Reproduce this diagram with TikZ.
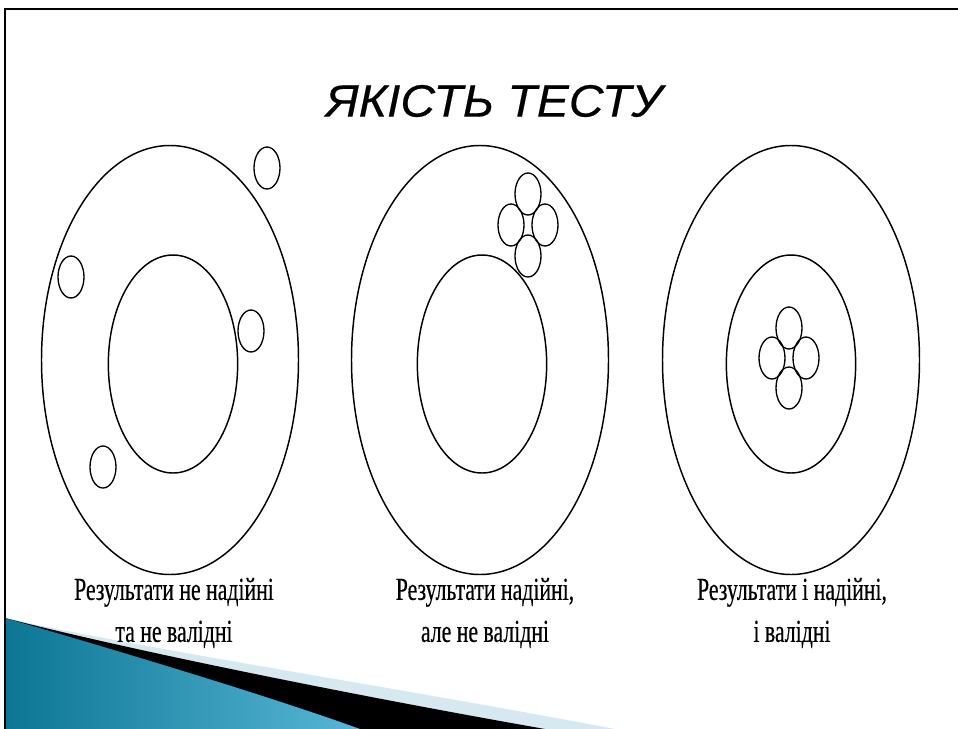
\documentclass[tikz,border=0pt]{standalone}
\usepackage{fontspec}
\setmainfont{Liberation Serif}
\newfontfamily\titlefont{Liberation Sans}[FakeStretch=1.06,FakeBold=0.4]
\newfontfamily\labelfont{Liberation Serif}[FakeStretch=0.68,FakeBold=0.4]
\usetikzlibrary{shapes.geometric}
\definecolor{swooshlight}{RGB}{214,233,240}
\definecolor{swooshdark}{RGB}{12,118,148}
\definecolor{swooshmid}{RGB}{88,182,214}

\begin{document}
\begin{tikzpicture}[x=0.75pt,y=-0.75pt]
			\tikzstyle{ring}=[ellipse,draw,line width=1.1pt,inner sep=0pt,minimum width=192.75pt,minimum height=321.75pt]
			\tikzstyle{bull}=[ellipse,draw,line width=1.1pt,inner sep=0pt,minimum width=97pt,minimum height=163.5pt]
			\tikzstyle{hit}=[ellipse,draw,line width=1pt,inner sep=0pt,minimum width=19.5pt,minimum height=31.5pt]
			\tikzstyle{caption}=[font=\labelfont\fontsize{24}{31.5}\selectfont,align=center]
			\tikzstyle{heading}=[font=\titlefont\itshape\fontsize{34}{40}\selectfont]
			\useasboundingbox (0,0) rectangle (958,729);
			% swoosh in the corner
			\fill[swooshlight] (5,618) .. controls (150,650) and (400,688) .. (615,729) -- (5,729) -- cycle;
			\fill[black] (5,618) .. controls (150,655) and (380,700) .. (545,729) -- (5,729) -- cycle;
			\shade[left color=swooshdark,right color=swooshmid] (5,618) .. controls (150,660) and (280,700) .. (360,729) -- (5,729) -- cycle;
			\draw[line width=2pt] (5,729) -- (5,9) -- (958,9);
			\node[heading] (title) at (494,101) {ЯКІСТЬ ТЕСТУ};
			% targets
			\node[ring] (R_1) at (170,360) {};
			\node[bull] (B_1) at (173,364) {};
			\node[ring] (R_2) at (480,360) {};
			\node[bull] (B_2) at (482,364) {};
			\node[ring] (R_3) at (791,360) {};
			\node[bull] (B_3) at (791,364) {};
			% hits
			\node[hit] (H_11) at (267,168) {};
			\node[hit] (H_12) at (71,277) {};
			\node[hit] (H_13) at (251,331) {};
			\node[hit] (H_14) at (103,467) {};
			\node[hit] (H_21) at (528,194) {};
			\node[hit] (H_22) at (511,225) {};
			\node[hit] (H_23) at (545,225) {};
			\node[hit] (H_24) at (528,256) {};
			\node[hit] (H_31) at (789,328) {};
			\node[hit] (H_32) at (772,358) {};
			\node[hit] (H_33) at (806,358) {};
			\node[hit] (H_34) at (789,388) {};
			% captions
			\node[caption] (C_1) at (174,613) {Результати не надійні\\та не валідні};
			\node[caption] (C_2) at (485,613) {Результати надійні,\\але не валідні};
			\node[caption] (C_3) at (792,613) {Результати і надійні,\\і валідні};
\end{tikzpicture}
\end{document}
